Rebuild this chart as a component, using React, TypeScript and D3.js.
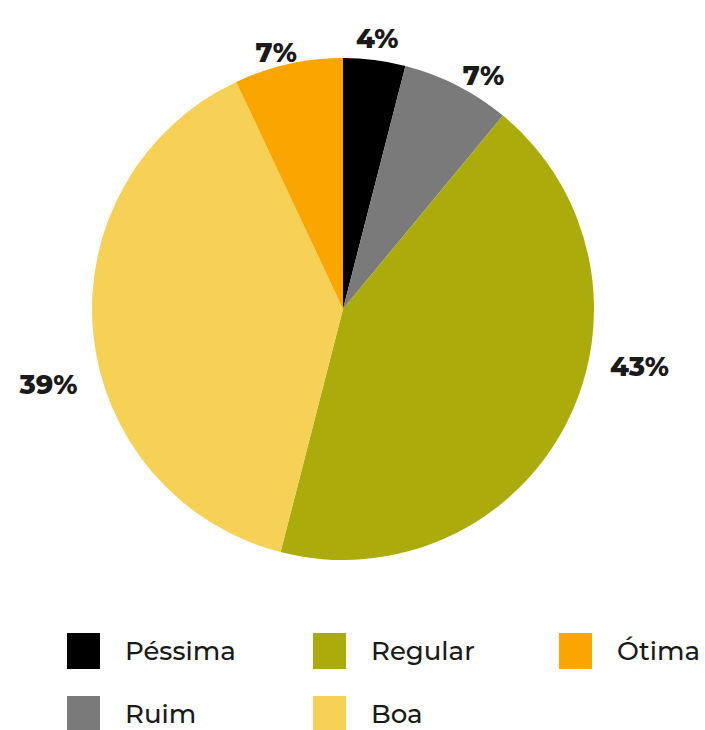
import React from "react";
import * as d3 from "d3";

const categories = ["Péssima", "Ruim", "Regular", "Boa", "Ótima"];
const values = [4, 7, 43, 39, 7];
const labels = ["4%", "7%", "43%", "39%", "7%"];
const colors = ["#000000", "#7a7a7a", "#abab0b", "#f7d156", "#fba600"];

// label placement: angle nudge (deg) from slice middle, radius of label centre
const labelNudge = [0, 4, -16, -9, -2];
const labelRadius = [273, 273, 302, 304, 265];

// legend layout: order of items in the grid
const legendOrder = ["Péssima", "Regular", "Ótima", "Ruim", "Boa"];

const W = 705;
const H = 730;
const cx = 343;
const cy = 309;
const R = 251;

export default function App() {
  const pie = d3
    .pie<number>()
    .sort(null)
    .value((d) => d)(values);
  const arc = d3.arc<d3.PieArcDatum<number>>().innerRadius(0).outerRadius(R);

  const font = "Montserrat, 'Noto Sans', 'Open Sans', sans-serif";

  return (
    <svg
      width={W}
      height={H}
      style={{ position: "absolute", left: 0, top: 0, background: "#fff" }}
    >
      <g transform={`translate(${cx},${cy})`}>
        {pie.map((p, i) => (
          <path key={i} d={arc(p) || ""} fill={colors[i]} />
        ))}
        {pie.map((p, i) => {
          const a = (p.startAngle + p.endAngle) / 2 + (labelNudge[i] * Math.PI) / 180;
          const r = labelRadius[i];
          return (
            <text
              key={"l" + i}
              x={r * Math.sin(a)}
              y={-r * Math.cos(a)}
              textAnchor="middle"
              dominantBaseline="central"
              fontFamily={font}
              fontWeight={800}
              fontSize={27}
              fill="#1a1a1a"
            >
              {labels[i]}
            </text>
          );
        })}
      </g>
      <g>
        {legendOrder.map((name, k) => {
          const i = categories.indexOf(name);
          const col = k % 3;
          const row = Math.floor(k / 3);
          const x = 67 + col * 246;
          const y = 633 + row * 63;
          return (
            <g key={name} transform={`translate(${x},${y})`}>
              <rect width={33} height={36} fill={colors[i]} />
              <text
                x={58}
                y={27}
                fontFamily={font}
                fontWeight={500}
                fontSize={26}
                fill="#1a1a1a"
              >
                {name}
              </text>
            </g>
          );
        })}
      </g>
    </svg>
  );
}
